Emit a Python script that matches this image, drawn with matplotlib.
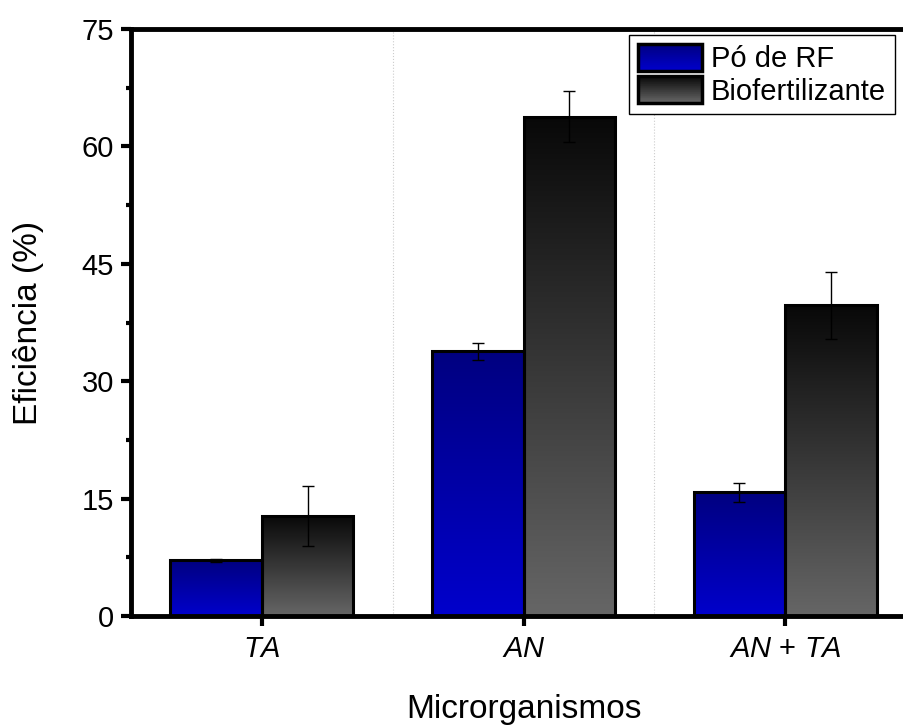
import numpy as np
import matplotlib
matplotlib.use("Agg")
import matplotlib.pyplot as plt
from matplotlib.patches import Rectangle, Patch
from matplotlib.legend_handler import HandlerBase
from matplotlib.colors import to_rgb, LinearSegmentedColormap

plt.rcParams['font.family'] = ['Liberation Sans', 'DejaVu Sans']
plt.rcParams['mathtext.fontset'] = 'custom'
plt.rcParams['mathtext.rm'] = 'Liberation Sans'
plt.rcParams['mathtext.it'] = 'Liberation Sans:italic'

# data
categories = [r'$\mathit{TA}$', r'$\mathit{AN}$', r'$\mathit{AN}$ + $\mathit{TA}$']
series_names = ['Pó de RF', 'Biofertilizante']
po_rf = [7.1, 33.8, 15.8]
po_rf_err = [0.2, 1.1, 1.2]
biofert = [12.8, 63.8, 39.7]
biofert_err = [3.8, 3.3, 4.3]

# gradient colours (top, bottom)
blue_grad = ('#000080', '#0000cc')
gray_grad = ('#080808', '#666666')

fig = plt.figure(figsize=(9.04, 7.25), dpi=100)
ax = fig.add_axes([0.1447, 0.1503, 0.8688, 0.8097])

x = np.arange(1, len(categories) + 1)
w = 0.35


def grad_bars(xpos, vals, errs, grad):
    bars = ax.bar(xpos, vals, w, facecolor='none', edgecolor='black',
                  linewidth=2.2, zorder=3)
    cmap = LinearSegmentedColormap.from_list('g', [grad[1], grad[0]])
    for b in bars:
        x0, y0 = b.get_x(), b.get_y()
        x1, y1 = x0 + b.get_width(), y0 + b.get_height()
        img = ax.imshow(np.linspace(0, 1, 256).reshape(-1, 1), cmap=cmap,
                        extent=[x0, x1, y0, y1], origin='lower',
                        aspect='auto', zorder=2)
        img.set_clip_path(b)
    ax.errorbar(xpos, vals, yerr=errs, fmt='none', ecolor='black',
                elinewidth=1.0, capsize=4, capthick=1.0, zorder=4)
    return bars


grad_bars(x - w / 2, po_rf, po_rf_err, blue_grad)
grad_bars(x + w / 2, biofert, biofert_err, gray_grad)

ax.set_xlim(0.5, 3.5)
ax.set_ylim(0, 75)
ax.set_xticks(x)
ax.set_xticklabels(categories)
ax.set_yticks(np.arange(0, 76, 15))
ax.set_yticks(np.arange(7.5, 75, 15), minor=True)
for xv in [1.5, 2.5]:
    ax.axvline(xv, color='#cccccc', lw=0.8, ls=':', zorder=1)

for s in ax.spines.values():
    s.set_linewidth(3.5)
ax.tick_params(axis='both', which='major', direction='out', length=7,
               width=3, labelsize=21, pad=5)
ax.tick_params(axis='y', which='minor', direction='out', length=3.5, width=3)
ax.tick_params(axis='x', which='major', pad=7)
ax.tick_params(axis='x', which='minor', bottom=False)

ax.set_ylabel('Eficiência (%)', fontsize=24, labelpad=27)
ax.set_xlabel('Microrganismos', fontsize=24, labelpad=22)


class GradHandler(HandlerBase):
    def __init__(self, grad):
        super().__init__()
        self.grad = grad

    def create_artists(self, legend, orig_handle, xdescent, ydescent,
                       width, height, fontsize, trans):
        top = np.array(to_rgb(self.grad[0]))
        bot = np.array(to_rgb(self.grad[1]))
        n = 40
        arts = []
        for i in range(n):
            f = i / (n - 1)
            col = bot + (top - bot) * f
            r = Rectangle((-xdescent, -ydescent + i * height / n), width,
                          height / n * 1.05, facecolor=col, edgecolor='none',
                          transform=trans)
            arts.append(r)
        arts.append(Rectangle((-xdescent, -ydescent), width, height,
                              facecolor='none', edgecolor='black', lw=2.5,
                              transform=trans))
        return arts


h1 = Patch(label=series_names[0])
h2 = Patch(label=series_names[1])
leg = ax.legend([h1, h2], series_names,
                handler_map={h1: GradHandler(blue_grad), h2: GradHandler(gray_grad)},
                loc='upper left', bbox_to_anchor=(629 / 904, 1 - 35 / 725),
                bbox_transform=fig.transFigure, fontsize=21,
                handlelength=2.2, handleheight=1.05, labelspacing=0.1,
                handletextpad=0.3, borderpad=0.3, borderaxespad=0,
                fancybox=False, framealpha=1)
leg.get_frame().set_edgecolor('black')
leg.get_frame().set_linewidth(1.0)

fig.savefig('out.png', dpi=100)
